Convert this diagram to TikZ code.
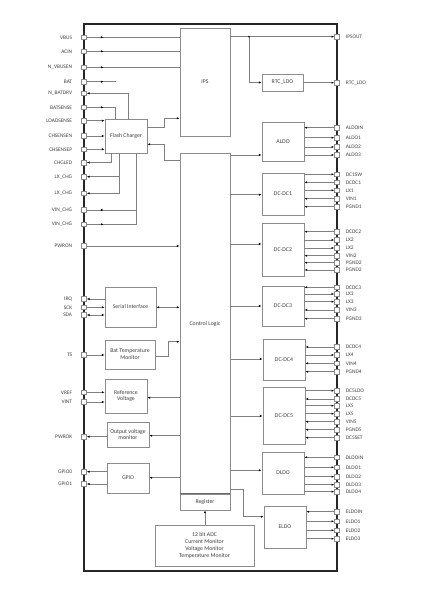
\documentclass[tikz,border=0pt]{standalone}
\usepackage{fontspec}
\setmainfont{Carlito}
\usetikzlibrary{arrows.meta,positioning,calc,decorations.markings}
\definecolor{wgray}{HTML}{808080}
\definecolor{bgray}{HTML}{8C8C8C}
\definecolor{tgray}{HTML}{404040}
\definecolor{cdark}{HTML}{262626}
\tikzset{
  % package outline and pads
  chip/.style  = {rectangle, draw=cdark, line width=1.3pt, inner sep=0pt,
                  minimum width=253pt, minimum height=547pt},
  pad/.style   = {rectangle, draw=bgray, fill=white, line width=0.6pt,
                  minimum size=4.8pt, inner sep=0pt},
  lbl/.style   = {text=tgray, inner sep=0.5pt, font=\fontsize{5.4}{6}\selectfont},
  lbll/.style  = {lbl, xshift=-8.5pt},
  lblr/.style  = {lbl, xshift=5.5pt},
  % function blocks
  blk/.style   = {rectangle, draw=bgray, fill=white, line width=0.7pt, align=center,
                  inner sep=1pt, text=tgray, font=\fontsize{5.8}{6.9}\selectfont},
  sep/.style   = {draw=cdark!70, line width=1.3pt},
  wire/.style  = {draw=wgray, line width=0.6pt},
  arr/.style   = {wire, -{Latex[length=2.8pt,width=2.2pt,color=black]}},
  dbl/.style   = {wire, {Latex[length=2.8pt,width=2.2pt,color=black]}-{Latex[length=2.8pt,width=2.2pt,color=black]}},
  midarr/.style = {postaction={decorate}, decoration={markings,
                  mark=at position 17pt with {\arrow{Latex[length=2.8pt,width=2.2pt,color=black]}}}},
}

\begin{document}
\begin{tikzpicture}[x=1pt,y=-1pt]
\useasboundingbox (0,0) rectangle (444,607);
\node[chip] (chip) at (210.5,297.5) {};

% pads, left side
\foreach \n/\y/\lab in {vbus/37.3/VBUS, acin/51.3/ACIN, nvbusen/67.3/N\_VBUSEN,
    bat/81.7/BAT, nbatdrv/93.3/N\_BATDRV, batsense/107.3/BATSENSE,
    loadsense/120.7/LOADSENSE, chsensen/136/CHSENSEN, chsensep/149.3/CHSENSEP,
    chgled/162.5/CHGLED, lxchgA/176.7/LX\_CHG, lxchgB/193.3/LX\_CHG,
    vinchgA/210/VIN\_CHG, vinchgB/224.3/VIN\_CHG, pwron/246/PWRON,
    irq/299/IRQ, sck/307.3/SCK, sda/315/SDA, ts/355/TS, vref/392.3/VREF,
    vint/402/VINT, pwrok/436.7/PWROK, gpioA/471.7/GPIO0, gpioB/484/GPIO1}
  \node[pad, label={[lbll]left:\lab}] (\n) at (84,\y) {};

% pads, right side
\foreach \n/\y/\lab in {ipsout/36.7/IPSOUT, rtcout/82.7/RTC\_LDO,
    aldoin/127.7/ALDOIN, aldoA/137.7/ALDO1, aldoB/147/ALDO2, aldoC/155/ALDO3,
    dcsw/174.3/DC1SW, dcdcA/182.3/DCDC1, lxA/190.3/LX1, vinA/198.7/VIN1, pgndA/206.7/PGND1,
    dcdcB/231.7/DCDC2, lxBa/240/LX2, lxBb/248/LX2, vinB/255.7/VIN2,
    pgndBa/262.7/PGND2, pgndBb/270/PGND2,
    dcdcC/287.3/DCDC3, lxCa/294/LX3, lxCb/301.7/LX3, vinC/310/VIN3, pgndC/318.7/PGND3,
    dcdcD/347/DCDC4, lxD/355/LX4, vinD/363.3/VIN4, pgndD/371.7/PGND4,
    dcldo/390.7/DC5LDO, dcdcE/399/DCDC5, lxEa/405.7/LX5, lxEb/413.7/LX5,
    vinE/421.7/VIN5, pgndE/429.7/PGND5, dcset/437.7/DC5SET,
    dldoin/457.3/DLDOIN, dldoA/467.3/DLDO1, dldoB/476.7/DLDO2, dldoC/484.7/DLDO3, dldoD/491.7/DLDO4,
    eldoin/511.7/ELDOIN, eldoA/521.3/ELDO1, eldoB/530.3/ELDO2, eldoC/538.7/ELDO3}
  \node[pad, label={[lblr]right:\lab}] (\n) at (337,\y) {};

% blocks
\node[blk, minimum width=50pt, minimum height=108pt] (ips) at (205,82) {IPS};
\node[blk, minimum width=42pt, minimum height=34pt]  (fc)  at (126,136) {Flash Charger};
\node[blk, minimum width=50pt, minimum height=341pt] (cl)  at (205,323.5) {Control Logic};
\node[blk, minimum width=50pt, minimum height=16pt]  (reg) at (205,502) {Register};
\node[blk, minimum width=51pt, minimum height=40pt]  (si)  at (130.5,307) {Serial Interface};
\node[blk, minimum width=50pt, minimum height=29pt]  (btm) at (130,354.5) {Bat Temperature\\Monitor};
\node[blk, minimum width=42pt, minimum height=34pt]  (rv)  at (126,396) {Reference\\Voltage};
\node[blk, minimum width=42pt, minimum height=25pt]  (ovm) at (128,434.5) {Output voltage\\monitor};
\node[blk, minimum width=42pt, minimum height=30pt]  (gpio) at (128,478) {GPIO};
\node[blk, minimum width=99pt, minimum height=41pt]  (adc) at (204.5,545.5)
  {12 bit ADC\\Current Monitor\\Voltage Monitor\\Temperature Monitor};
\node[blk, minimum width=41pt, minimum height=17pt]  (rtc)   at (282.5,82.5) {RTC\_LDO};
\node[blk, minimum width=42pt, minimum height=39pt]  (aldo)  at (283,141.5) {ALDO};
\node[blk, minimum width=42pt, minimum height=42pt]  (dcdc1) at (283,194) {DC-DC1};
\node[blk, minimum width=42pt, minimum height=53pt]  (dcdc2) at (283,249.5) {DC-DC2};
\node[blk, minimum width=42pt, minimum height=40pt]  (dcdc3) at (283,306) {DC-DC3};
\node[blk, minimum width=42pt, minimum height=41pt]  (dcdc4) at (284,359.5) {DC-DC4};
\node[blk, minimum width=42pt, minimum height=57pt]  (dcdc5) at (284,415.5) {DC-DC5};
\node[blk, minimum width=42pt, minimum height=42pt]  (dldo)  at (283,473) {DLDO};
\node[blk, minimum width=42pt, minimum height=42pt]  (eldo)  at (285,527) {ELDO};
\draw[sep] (reg.north west) -- (reg.north east);

% power path and charger
\foreach \p in {vbus,acin,nvbusen}
  \draw[wire,midarr] (\p) -- (ips.west |- \p);
\coordinate (batend) at (116,81.7);
\draw[wire,midarr] (bat) -- (batend);
\draw[arr] ($(fc.north west)+(24,0)$) |- (nbatdrv);
\draw[wire,midarr] (batsense) -| ($(fc.north west)+(10.7,0)$);
\foreach \p in {loadsense,chsensen,chsensep}
  \draw[arr] (\p) -- (fc.west |- \p);
\draw[arr] ($(fc.south west)+(6.7,0)$) |- (chgled);
\draw[arr] ($(fc.south west)+(14.3,0)$) |- (lxchgA);
\draw[arr] ($(fc.south west)+(14.3,0)$) |- (lxchgB);
\draw[wire,midarr] (vinchgA) -| ($(fc.south west)+(31.7,0)$);
\draw[wire,midarr] (vinchgB) -| ($(fc.south west)+(31.7,0)$);
\draw[arr] (fc.east |- 0,127.3) -- ++(16.6,0) |- (ips.west |- 0,118.3);
\draw[arr] (cl.west |- 0,160.7) -- ++(-15.7,0) |- (fc.east |- 0,144.3);
\draw[arr] (pwron) -- (cl.west |- pwron);

% interface blocks on the left
\draw[arr] (si.west |- irq) -- (irq);
\draw[arr] (sck) -- (si.west |- sck);
\draw[dbl] (sda) -- (si.west |- sda);
\draw[dbl] (si.east |- 0,307.3) -- (cl.west |- 0,307.3);
\draw[arr] (ts) -- (btm.west |- ts);
\draw[arr] (btm.east |- 0,356.7) -- ++(12.6,0) |- (cl.west |- 0,341.7);
\draw[arr] (vref) -- (rv.west |- vref);
\draw[arr] (vint) -- (rv.west |- vint);
\draw[arr] (cl.west |- 0,397.7) -- (rv.east |- 0,397.7);
\draw[arr] (cl.west |- 0,435.7) -- (ovm.east |- 0,435.7);
\draw[arr] (ovm.west |- pwrok) -- (pwrok);
\draw[arr] (cl.west |- 0,477.7) -- (gpio.east |- 0,477.7);
\draw[arr] (gpio.west |- gpioA) -- (gpioA);
\draw[arr] (gpio.west |- gpioB) -- (gpioB);
\draw[arr] (adc.north -| reg) -- (reg.south);

% regulators on the right
\coordinate (ipsj) at (249,36.7);
\draw[arr] (ips.east |- ipsout) -- (ipsout);
\draw[arr] (ipsj) |- (rtc.west);
\fill[black] (ipsj) circle (0.9);
\foreach \b/\y in {aldo/155, dcdc1/194.7, dcdc2/244, dcdc3/306, dcdc4/359, dcdc5/416, dldo/470.3}
  \draw[arr] (cl.east |- 0,\y) -- (\b.west |- 0,\y);
\draw[arr] (cl.east |- 0,489.3) -- ++(12.7,0) |- (eldo.west |- 0,516.7);
% block -> pad
\foreach \b/\p in {rtc/rtcout, aldo/aldoA, aldo/aldoB, aldo/aldoC, dcdc1/dcsw, dcdc1/lxA,
    dcdc2/lxBa, dcdc2/lxBb, dcdc3/lxCa, dcdc3/lxCb, dcdc4/lxD, dcdc5/dcldo, dcdc5/lxEa,
    dcdc5/lxEb, dldo/dldoA, dldo/dldoB, dldo/dldoC, dldo/dldoD, eldo/eldoA, eldo/eldoB, eldo/eldoC}
  \draw[arr] (\b.east |- \p) -- (\p);
% pad -> block
\foreach \b/\p in {aldo/aldoin, dcdc1/dcdcA, dcdc1/vinA, dcdc1/pgndA, dcdc2/dcdcB, dcdc2/vinB,
    dcdc2/pgndBa, dcdc2/pgndBb, dcdc3/dcdcC, dcdc3/vinC, dcdc3/pgndC, dcdc4/dcdcD, dcdc4/vinD,
    dcdc4/pgndD, dcdc5/dcdcE, dcdc5/vinE, dcdc5/pgndE, dcdc5/dcset, dldo/dldoin, eldo/eldoin}
  \draw[arr] (\p) -- (\b.east |- \p);
\end{tikzpicture}
\end{document}
